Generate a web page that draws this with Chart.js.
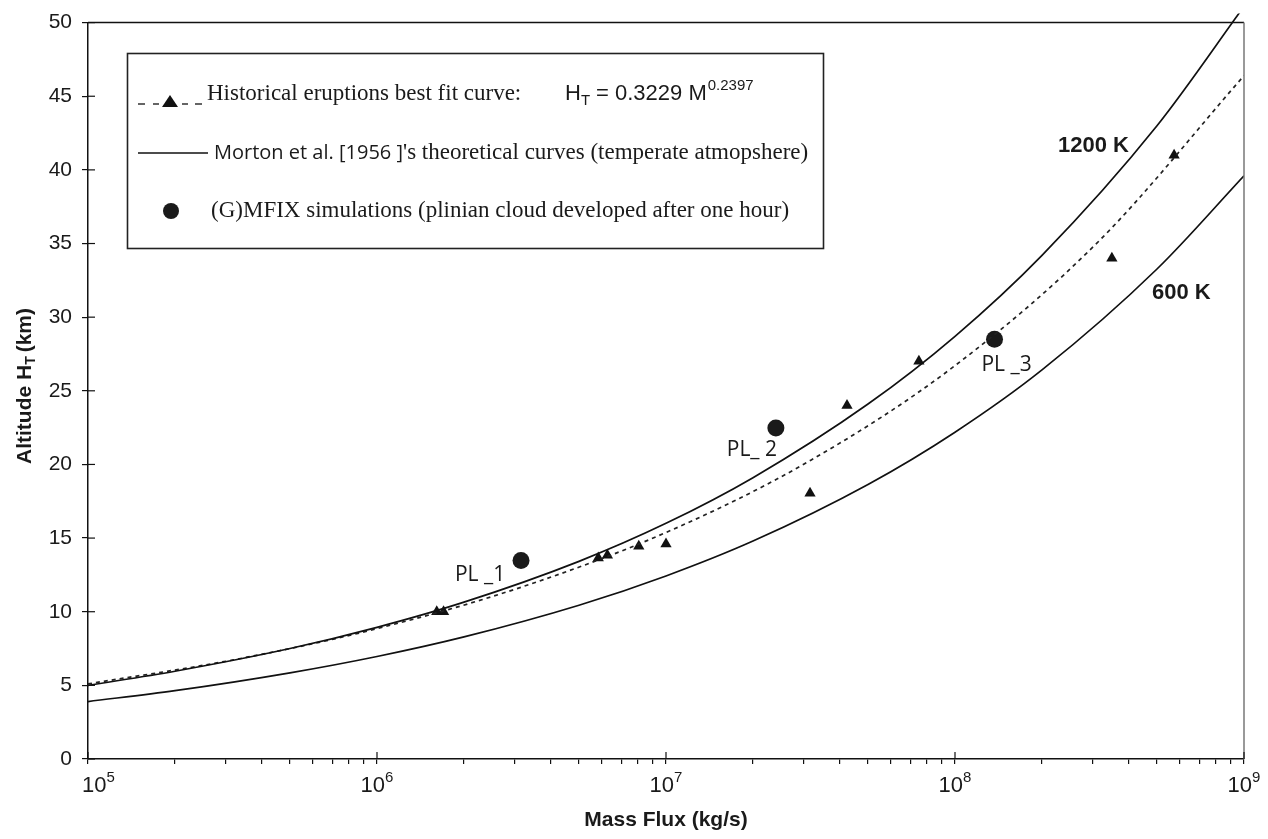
<!DOCTYPE html>
<html>
<head>
<meta charset="utf-8">
<script src="https://cdn.jsdelivr.net/npm/chart.js@4.4.1/dist/chart.umd.min.js"></script>
<style>
html, body { margin: 0; padding: 0; background: #fff; }
#wrap { width: 1268px; height: 839px; }
</style>
</head>
<body>
<div id="wrap"><canvas id="c" width="1268" height="839"></canvas></div>
<script>
const mortonMass = [1e5, 2e5, 5e5, 1e6, 2e6, 5e6, 1e7, 2e7, 5e7, 1e8, 2e8, 5e8, 1e9]
const height1200K = [5.0, 5.96, 7.5, 8.94, 10.65, 13.42, 16.0, 19.1, 24.1, 28.7, 34.2, 43.0, 51.1]
const height600K = [3.9, 4.64, 5.85, 6.96, 8.29, 10.44, 12.43, 14.8, 18.64, 22.19, 26.42, 33.27, 39.6]

// best fit curve of the historical eruptions
const fitMass = [1e5, 3.16e5, 1e6, 3.16e6, 1e7, 3.16e7, 1e8, 3.16e8, 1e9]
const fitHeight = [5.1, 6.72, 8.85, 11.67, 15.38, 20.27, 26.71, 35.2, 46.4]

// historical eruptions
const histMass = [1.61e6, 1.70e6, 5.83e6, 6.27e6, 8.05e6, 1.0e7, 3.15e7, 4.23e7, 7.5e7, 3.49e8, 5.73e8]
const histHeight = [10.0, 10.0, 13.65, 13.83, 14.44, 14.6, 18.04, 24.0, 27.0, 34.0, 41.0]

// (G)MFIX simulations
const gmfixMass = [3.15e6, 2.40e7, 1.37e8]
const gmfixHeight = [13.47, 22.47, 28.5]
const gmfixNames = ['PL _1', 'PL_ 2', 'PL _3']
const gmfixLabelOffset = [[-41, 20], [-24, 28], [12, 32]]

// x tick labels: base and exponent of each decade
const decadeExps = [5, 6, 7, 8, 9]
const yMin = 0, yMax = 50, yStep = 5

function pts(xs, ys) {
    return xs.map((x, i) => ({x: x, y: ys[i]}))
}

function xTicks() {
    let t = []
    for (let e = 5; e < 9; e++) {
        for (let s = 1; s < 10; s++) t.push({value: s * Math.pow(10, e)})
    }
    t.push({value: 1e9})
    return t
}

// text with a sub- or superscript part
function richText(ctx, parts, x, y) {
    parts.forEach(p => {
        ctx.font = p.font
        ctx.fillText(p.t, x, y + (p.dy || 0))
        x += ctx.measureText(p.t).width + (p.gap || 0)
    })
    return x
}

function richWidth(ctx, parts) {
    let w = 0
    parts.forEach(p => { ctx.font = p.font; w += ctx.measureText(p.t).width + (p.gap || 0) })
    return w
}

const decor = {
    id: 'decor',
    afterDraw(chart) {
        const ctx = chart.ctx
        const a = chart.chartArea
        const xs = chart.scales.x, ys = chart.scales.y
        ctx.save()

        // frame top and right
        ctx.lineWidth = 1.5
        ctx.strokeStyle = '#111'
        ctx.beginPath()
        ctx.moveTo(a.left, a.top); ctx.lineTo(a.right, a.top)
        ctx.stroke()
        ctx.strokeStyle = '#777'
        ctx.beginPath()
        ctx.moveTo(a.right, a.top); ctx.lineTo(a.right, a.bottom)
        ctx.stroke()

        // major ticks also cross into the plot
        ctx.strokeStyle = '#111'
        ctx.lineWidth = 1.2
        decadeExps.forEach(e => {
            let px = xs.getPixelForValue(Math.pow(10, e))
            ctx.beginPath(); ctx.moveTo(px, a.bottom); ctx.lineTo(px, a.bottom - 7); ctx.stroke()
        })
        for (let v = yMin; v <= yMax; v += yStep) {
            let py = ys.getPixelForValue(v)
            ctx.beginPath(); ctx.moveTo(a.left, py); ctx.lineTo(a.left + 7, py); ctx.stroke()
        }

        // decade labels 10^n
        const tickBig = '22px "Liberation Sans", Arial, sans-serif'
        const tickSup = '15px "Liberation Sans", Arial, sans-serif'
        ctx.fillStyle = '#1a1a1a'
        ctx.textAlign = 'left'
        ctx.textBaseline = 'alphabetic'
        decadeExps.forEach((e, i) => {
            let parts = [{t: '10', font: tickBig}, {t: String(e), font: tickSup, dy: -10}]
            let w = richWidth(ctx, parts)
            let px = xs.getPixelForValue(Math.pow(10, e))
            let left = i === 0 ? px - 6 : px - w / 2
            richText(ctx, parts, left, 792)
        })

        // legend box
        ctx.fillStyle = '#fff'
        ctx.fillRect(128, 54, 696, 194)
        ctx.strokeStyle = '#222'
        ctx.lineWidth = 1.6
        ctx.strokeRect(127.5, 53.5, 696, 195)

        ctx.fillStyle = '#111'
        ctx.strokeStyle = '#111'
        ctx.lineWidth = 1.3
        ;[[138, 145], [153, 159], [182, 188], [195, 202]].forEach(d => {
            ctx.beginPath(); ctx.moveTo(d[0], 104); ctx.lineTo(d[1], 104); ctx.stroke()
        })
        ctx.beginPath()
        ctx.moveTo(170, 95); ctx.lineTo(178, 107); ctx.lineTo(162, 107); ctx.closePath()
        ctx.fill()
        ctx.lineWidth = 1.4
        ctx.beginPath(); ctx.moveTo(138, 153); ctx.lineTo(208, 153); ctx.stroke()
        ctx.fillStyle = '#1a1a1a'
        ctx.beginPath(); ctx.arc(171, 211, 8, 0, Math.PI * 2); ctx.fill()

        const serif = '23px "Liberation Serif", "DejaVu Serif", serif'
        const sans = '22px "Liberation Sans", Arial, sans-serif'
        const sansSmall = '15px "Liberation Sans", Arial, sans-serif'
        ctx.fillStyle = '#1a1a1a'
        ctx.font = serif
        ctx.fillText('Historical eruptions best fit curve:', 207, 100)
        richText(ctx, [
            {t: 'H', font: sans},
            {t: 'T', font: sansSmall, dy: 5, gap: 6},
            {t: '= 0.3229 M', font: sans, gap: 1},
            {t: '0.2397', font: sansSmall, dy: -10}
        ], 565, 100)
        let x2 = richText(ctx, [
            {t: 'Morton et al. [1956 ]', font: '20px "Open Sans", "Noto Sans", sans-serif'}
        ], 214, 159)
        ctx.font = serif
        ctx.fillText("'s theoretical curves (temperate atmopshere)", x2, 159)
        ctx.fillText('(G)MFIX simulations (plinian cloud developed after one hour)', 211, 217)

        // point labels
        ctx.font = '21px "Open Sans", "Noto Sans", sans-serif'
        ctx.textAlign = 'center'
        gmfixNames.forEach((n, i) => {
            let px = xs.getPixelForValue(gmfixMass[i])
            let py = ys.getPixelForValue(gmfixHeight[i])
            ctx.fillText(n, px + gmfixLabelOffset[i][0], py + gmfixLabelOffset[i][1])
        })

        // curve labels
        ctx.font = 'bold 22px "Liberation Sans", Arial, sans-serif'
        ctx.textAlign = 'left'
        ctx.fillText('1200 K', 1058, 152)
        ctx.fillText('600 K', 1152, 299)

        // axis titles
        const bold = 'bold 21px "Liberation Sans", Arial, sans-serif'
        const boldSmall = 'bold 14px "Liberation Sans", Arial, sans-serif'
        ctx.font = bold
        ctx.textAlign = 'center'
        ctx.fillText('Mass Flux (kg/s)', (a.left + a.right) / 2, 826)

        ctx.translate(31, 386)
        ctx.rotate(-Math.PI / 2)
        ctx.textAlign = 'left'
        let parts = [
            {t: 'Altitude H', font: bold},
            {t: 'T', font: boldSmall, dy: 4, gap: 4},
            {t: '(km)', font: bold}
        ]
        richText(ctx, parts, -richWidth(ctx, parts) / 2, 0)
        ctx.restore()
    }
}

const tickFont = {family: '"Liberation Sans", Arial, sans-serif', size: 21}

new Chart(document.getElementById('c'), {
    type: 'scatter',
    data: {
        datasets: [
            {
                label: '1200 K',
                type: 'line',
                data: pts(mortonMass, height1200K),
                borderColor: '#111',
                borderWidth: 1.7,
                pointRadius: 0,
                cubicInterpolationMode: 'monotone',
                clip: {left: 0, top: 9, right: 0, bottom: 0}
            },
            {
                label: '600 K',
                type: 'line',
                data: pts(mortonMass, height600K),
                borderColor: '#111',
                borderWidth: 1.7,
                pointRadius: 0,
                cubicInterpolationMode: 'monotone'
            },
            {
                label: 'best fit',
                type: 'line',
                data: pts(fitMass, fitHeight),
                borderColor: '#222',
                borderWidth: 1.7,
                borderDash: [4, 4],
                pointRadius: 0,
                cubicInterpolationMode: 'monotone'
            },
            {
                label: 'Historical eruptions',
                data: pts(histMass, histHeight),
                pointStyle: 'triangle',
                pointRadius: 6.5,
                backgroundColor: '#111',
                borderColor: '#111',
                borderWidth: 0
            },
            {
                label: '(G)MFIX simulations',
                data: pts(gmfixMass, gmfixHeight),
                pointStyle: 'circle',
                pointRadius: 8.5,
                backgroundColor: '#1a1a1a',
                borderColor: '#1a1a1a',
                borderWidth: 0
            }
        ]
    },
    options: {
        responsive: false,
        animation: false,
        devicePixelRatio: 1,
        layout: {padding: {top: 18, right: 24, left: 0, bottom: 0}},
        plugins: {legend: {display: false}, tooltip: {enabled: false}},
        scales: {
            x: {
                type: 'logarithmic',
                min: 1e5,
                max: 1e9,
                afterBuildTicks: s => { s.ticks = xTicks() },
                afterFit: s => { s.height = 80 },
                border: {color: '#111', width: 1.5},
                grid: {drawOnChartArea: false, drawTicks: true, tickLength: 5, color: '#111', lineWidth: 1.2},
                ticks: {
                    autoSkip: false,
                    maxRotation: 0,
                    font: tickFont,
                    // labels are drawn by the decor plugin with real superscripts
                    callback: () => ''
                }
            },
            y: {
                min: yMin,
                max: yMax,
                afterFit: s => { s.width = 88 },
                border: {color: '#111', width: 1.5},
                grid: {drawOnChartArea: false, drawTicks: true, tickLength: 6, color: '#111', lineWidth: 1.2},
                ticks: {stepSize: yStep, padding: 10, color: '#1a1a1a', font: tickFont}
            }
        }
    },
    plugins: [decor]
})
</script>
</body>
</html>
